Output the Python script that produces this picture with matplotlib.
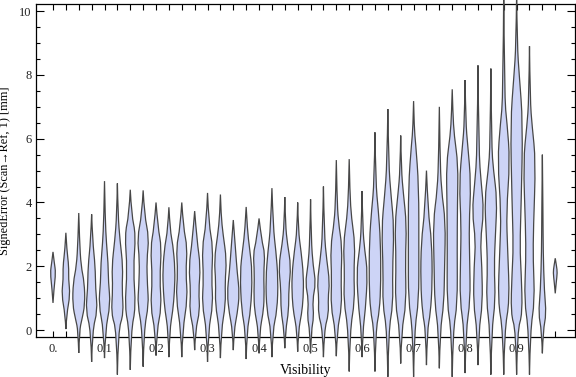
#!/usr/bin/env python3
"""Violin chart of signed scan->ref error per visibility bin."""

import matplotlib
matplotlib.use("Agg")
import matplotlib.pyplot as plt
from matplotlib.patches import PathPatch
from matplotlib.path import Path
from matplotlib.ticker import FixedLocator, MultipleLocator

# Category positions (visibility bins).
VISIBILITY = [0.0, 0.025, 0.05, 0.075, 0.1, 0.125, 0.15, 0.175, 0.2, 0.225,
              0.25, 0.275, 0.3, 0.325, 0.35, 0.375, 0.4, 0.425, 0.45, 0.475,
              0.5, 0.525, 0.55, 0.575, 0.6, 0.625, 0.65, 0.675, 0.7, 0.725,
              0.75, 0.775, 0.8, 0.825, 0.85, 0.875, 0.9, 0.925, 0.95, 0.975]

# Violin outline knots: error values [mm] ...
KNOT_Y = [
    [0.85, 1.3, 1.8, 2.1, 2.45],
    [0.03, 0.5, 1.1, 1.6, 2.0, 2.5, 3.05],
    [-0.72, 0.0, 0.3, 0.8, 1.5, 2.0, 2.8, 3.67],
    [-1.0, 0.0, 0.6, 1.3, 2.0, 2.8, 3.63],
    [-0.88, 0.0, 0.8, 1.5, 2.1, 2.7, 3.5, 4.67],
    [-1.4, 0.0, 0.5, 1.3, 2.0, 2.8, 3.6, 4.6],
    [-1.25, 0.0, 0.7, 1.9, 3.0, 3.6, 4.4],
    [-1.15, 0.0, 0.8, 1.4, 2.2, 2.9, 3.6, 4.38],
    [-0.8, 0.0, 0.7, 1.6, 2.6, 3.2, 4.0],
    [-0.85, 0.0, 0.6, 1.2, 1.9, 2.7, 3.1, 3.85],
    [-0.85, 0.0, 1.0, 1.8, 2.6, 3.2, 4.0],
    [-0.63, 0.0, 0.6, 1.2, 2.0, 2.8, 3.73],
    [-1.0, 0.0, 0.8, 1.6, 2.6, 3.3, 4.3],
    [-0.88, 0.0, 0.8, 1.5, 2.2, 3.0, 3.6, 4.25],
    [-0.63, 0.0, 0.5, 1.15, 1.8, 2.5, 3.45],
    [-0.91, 0.0, 0.6, 1.8, 2.6, 3.1, 3.86],
    [-0.73, 0.0, 0.5, 1.0, 1.8, 2.4, 2.8, 3.5],
    [-0.85, 0.0, 0.6, 1.6, 2.5, 3.2, 4.45],
    [-0.57, 0.0, 0.6, 1.3, 2.0, 2.7, 3.3, 4.17],
    [-0.68, 0.0, 0.5, 1.0, 1.7, 2.5, 3.1, 4.0],
    [-0.73, 0.0, 0.4, 0.94, 1.47, 2.0, 2.8, 4.1],
    [-0.85, 0.0, 0.5, 1.0, 1.5, 2.2, 3.0, 4.5],
    [-0.82, 0.0, 0.72, 1.6, 2.6, 3.4, 4.2, 5.33],
    [-1.3, 0.0, 0.9, 1.8, 2.7, 3.5, 4.3, 5.36],
    [-0.85, 0.0, 0.6, 1.8, 2.5, 3.2, 4.36],
    [-1.3, 0.0, 0.6, 1.5, 2.8, 3.8, 4.6, 6.2],
    [-1.47, 0.0, 0.8, 1.8, 3.2, 4.2, 5.2, 6.93],
    [-1.05, 0.0, 0.8, 2.2, 3.3, 4.3, 5.0, 6.1],
    [-1.47, 0.0, 0.9, 2.5, 4.5, 5.9, 6.3, 7.18],
    [-1.1, 0.0, 0.5, 1.5, 2.8, 3.7, 5.0],
    [-1.2, 0.0, 0.8, 2.0, 3.4, 4.4, 5.5, 7.0],
    [-1.47, 0.0, 0.8, 2.5, 4.0, 5.2, 6.1, 6.8, 7.55],
    [-1.35, 0.0, 0.9, 2.2, 3.3, 4.6, 5.8, 6.5, 7.84],
    [-1.1, 0.0, 0.8, 2.0, 2.8, 3.7, 4.6, 5.6, 8.3],
    [-1.4, 0.0, 0.9, 2.0, 3.0, 4.1, 5.0, 5.8, 8.2],
    [-1.4, 0.0, 0.9, 2.5, 3.7, 5.3, 6.5, 7.3, 10.8],
    [-1.4, 0.0, 0.5, 1.8, 2.6, 4.0, 6.5, 8.0, 8.9, 10.5],
    [-1.4, 0.0, 0.9, 2.2, 3.2, 5.3, 6.4, 7.2, 8.9],
    [-0.73, 0.0, 0.5, 1.2, 2.5, 3.5, 5.5],
    [1.15, 1.5, 1.8, 2.0, 2.25],
]

# ... and the half width at each knot, as a fraction of the full half width.
KNOT_W = [
    [0.0, 0.15, 0.42, 0.2, 0.0],
    [0.0, 0.12, 0.65, 0.4, 0.45, 0.15, 0.0],
    [0.0, 0.12, 0.45, 0.95, 0.85, 0.35, 0.12, 0.0],
    [0.0, 0.12, 0.9, 0.6, 0.55, 0.15, 0.0],
    [0.0, 0.12, 0.9, 0.6, 0.55, 0.3, 0.1, 0.0],
    [0.0, 0.12, 0.95, 0.7, 0.85, 0.4, 0.1, 0.0],
    [0.0, 0.12, 0.85, 0.45, 0.85, 0.2, 0.0],
    [0.0, 0.12, 0.85, 0.65, 0.55, 0.9, 0.2, 0.0],
    [0.0, 0.12, 0.85, 0.55, 0.85, 0.3, 0.0],
    [0.0, 0.12, 0.6, 0.85, 0.95, 0.6, 0.2, 0.0],
    [0.0, 0.12, 0.9, 0.6, 0.85, 0.25, 0.0],
    [0.0, 0.12, 0.8, 0.6, 0.9, 0.35, 0.0],
    [0.0, 0.12, 0.85, 0.6, 0.85, 0.2, 0.0],
    [0.0, 0.12, 0.8, 0.7, 0.95, 0.4, 0.1, 0.0],
    [0.0, 0.12, 0.6, 0.95, 0.6, 0.35, 0.0],
    [0.0, 0.12, 0.7, 0.95, 0.5, 0.2, 0.0],
    [0.0, 0.12, 0.6, 0.8, 0.7, 0.9, 0.4, 0.0],
    [0.0, 0.12, 0.8, 0.95, 0.6, 0.2, 0.0],
    [0.0, 0.12, 0.6, 0.6, 0.95, 0.4, 0.1, 0.0],
    [0.0, 0.12, 0.6, 0.85, 0.9, 0.5, 0.1, 0.0],
    [0.0, 0.12, 0.5, 0.3, 0.8, 0.4, 0.1, 0.0],
    [0.0, 0.12, 0.8, 0.7, 0.95, 0.5, 0.12, 0.0],
    [0.0, 0.12, 0.85, 0.7, 0.9, 0.3, 0.1, 0.0],
    [0.0, 0.12, 0.85, 0.7, 0.9, 0.35, 0.1, 0.0],
    [0.0, 0.12, 0.5, 0.85, 0.4, 0.1, 0.0],
    [0.0, 0.12, 0.7, 0.9, 0.85, 0.5, 0.12, 0.0],
    [0.0, 0.12, 0.8, 0.7, 0.95, 0.5, 0.12, 0.0],
    [0.0, 0.12, 0.85, 0.7, 0.9, 0.4, 0.1, 0.0],
    [0.0, 0.12, 0.8, 0.8, 0.8, 0.3, 0.1, 0.0],
    [0.0, 0.12, 0.6, 0.9, 0.8, 0.25, 0.0],
    [0.0, 0.12, 0.7, 0.8, 0.95, 0.3, 0.1, 0.0],
    [0.0, 0.12, 0.8, 0.75, 0.8, 0.9, 0.3, 0.1, 0.0],
    [0.0, 0.12, 0.8, 0.7, 0.6, 0.9, 0.4, 0.1, 0.0],
    [0.0, 0.12, 0.7, 0.6, 0.35, 0.9, 0.5, 0.12, 0.0],
    [0.0, 0.12, 0.7, 0.5, 0.7, 0.95, 0.4, 0.1, 0.0],
    [0.0, 0.12, 0.9, 0.6, 0.4, 0.95, 0.5, 0.1, 0.0],
    [0.0, 0.12, 0.9, 0.7, 0.5, 0.7, 0.95, 0.4, 0.1, 0.0],
    [0.0, 0.12, 0.8, 0.55, 0.6, 0.95, 0.4, 0.1, 0.0],
    [0.0, 0.12, 0.6, 0.3, 0.12, 0.1, 0.0],
    [0.0, 0.15, 0.32, 0.2, 0.0],
]

TICK_LABELS = ["0.", "0.1", "0.2", "0.3", "0.4", "0.5", "0.6", "0.7", "0.8", "0.9"]

FILL = "#cdd4f6"
EDGE = "#474747"
HALF_WIDTH = 0.0127  # full half width in x units


def _side(pts):
    """Quadratic-bezier path codes through one side of a violin (tips kept)."""
    verts = [pts[0]]
    codes = [Path.MOVETO]
    for k in range(1, len(pts) - 1):
        if k == len(pts) - 2:
            end = pts[k + 1]
        else:
            end = ((pts[k][0] + pts[k + 1][0]) / 2, (pts[k][1] + pts[k + 1][1]) / 2)
        verts += [pts[k], end]
        codes += [Path.CURVE3, Path.CURVE3]
    return verts, codes


def violin_path(x, ys, ws):
    right = [(x + w * HALF_WIDTH, y) for y, w in zip(ys, ws)]
    left = [(x - w * HALF_WIDTH, y) for y, w in zip(reversed(ys), reversed(ws))]
    rv, rc = _side(right)
    lv, lc = _side(left)
    lc[0] = Path.LINETO
    return Path(rv + lv + [rv[0]], rc + lc + [Path.CLOSEPOLY])


def main():
    plt.rcParams.update({
        "font.family": ["Liberation Serif", "DejaVu Serif"],
        "font.size": 9,
    })
    fig = plt.figure(figsize=(5.76, 3.77), dpi=100)
    ax = fig.add_axes([0.0625, 0.106, 0.936, 0.883])

    for x, ys, ws in zip(VISIBILITY, KNOT_Y, KNOT_W):
        patch = PathPatch(violin_path(x, ys, ws), facecolor=FILL, edgecolor=EDGE,
                          linewidth=0.9, clip_on=False, zorder=3)
        ax.add_patch(patch)

    ax.set_xlim(-0.033, 1.0136)
    ax.set_ylim(-0.22, 10.22)

    ax.xaxis.set_major_locator(FixedLocator(VISIBILITY))
    ax.set_xticklabels([TICK_LABELS[i // 4] if i % 4 == 0 else ""
                        for i in range(len(VISIBILITY))])
    ax.set_yticks([0, 2, 4, 6, 8, 10])
    ax.set_yticklabels(["0", "2", "4", "6", "8", "10"])
    ax.yaxis.set_minor_locator(MultipleLocator(0.5))

    ax.tick_params(axis="both", which="both", direction="in",
                   top=True, right=True, width=0.8, colors="black",
                   labelcolor="#222222")
    ax.tick_params(axis="x", which="major", length=4, pad=4)
    ax.tick_params(axis="y", which="major", length=5.5, pad=3)
    ax.tick_params(axis="y", which="minor", length=3)
    for sp in ax.spines.values():
        sp.set_linewidth(0.9)

    ax.set_xlabel("Visibility", fontsize=10, labelpad=7)
    ax.set_ylabel("SignedError (Scan\u2192Ref, 1) [mm]", fontsize=8.8, labelpad=6)

    fig.savefig("out.png", dpi=100)


if __name__ == "__main__":
    main()
